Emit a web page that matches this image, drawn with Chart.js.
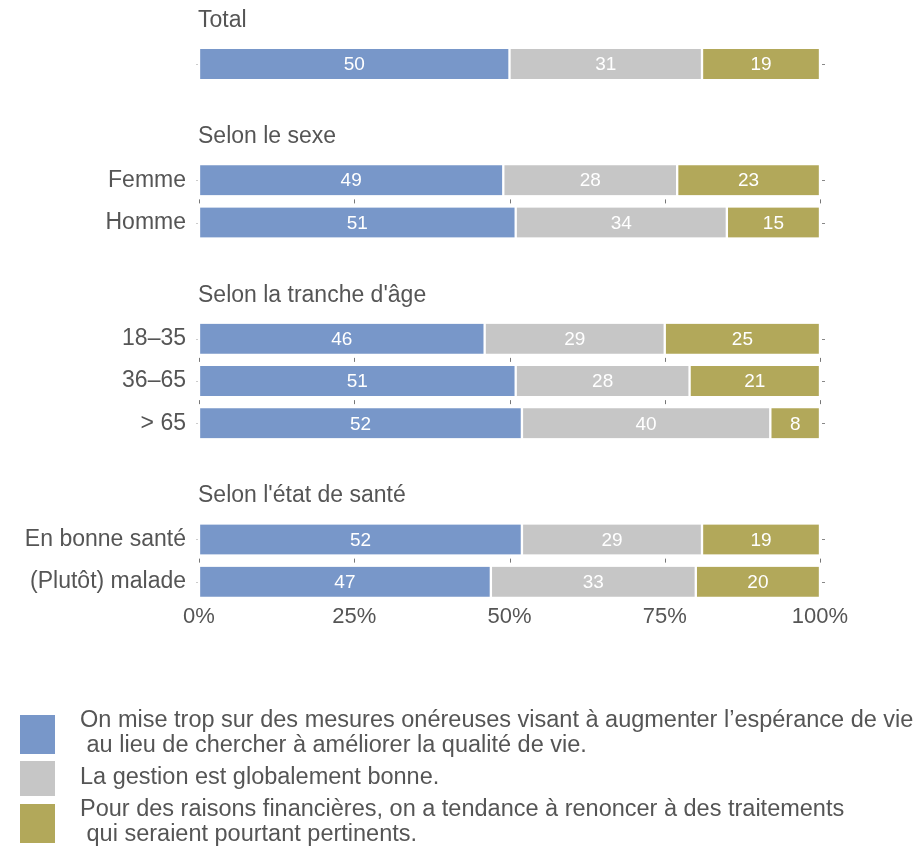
<!DOCTYPE html>
<html><head><meta charset="utf-8">
<script src="https://cdn.jsdelivr.net/npm/chart.js@4"></script>
<style>
html,body{margin:0;padding:0;background:#fff;}
#wrap{position:relative;width:924px;height:848px;overflow:hidden;}
#c{position:absolute;left:0;top:0;}
#legend{position:absolute;left:20px;top:707px;display:flex;flex-direction:column;gap:2px;font-family:"Liberation Sans",Arial,sans-serif;font-size:23.5px;color:#555;}
.item{display:flex;align-items:center;}
.box{width:35px;flex:none;position:relative;top:2px;}
.txt{margin-left:25px;white-space:pre;line-height:25px;}
</style></head>
<body><div id="wrap"><canvas id="c" width="924" height="848"></canvas><div id="legend"></div></div>
<script>
// ---- data ----
const categories = ["Total", "Femme", "Homme", "18–35", "36–65", "> 65", "En bonne santé", "(Plutôt) malade"];
const groupTitles = ["Total", "Selon le sexe", "Selon la tranche d'âge", "Selon l'état de santé"];
const rowGroup = [0, 1, 1, 2, 2, 2, 3, 3];
const seriesLabels = [
  "On mise trop sur des mesures onéreuses visant à augmenter l’espérance de vie\n au lieu de chercher à améliorer la qualité de vie.",
  "La gestion est globalement bonne.",
  "Pour des raisons financières, on a tendance à renoncer à des traitements\n qui seraient pourtant pertinents."
];
const tropOnereux = [50, 49, 51, 46, 51, 52, 52, 47];
const gestionBonne = [31, 28, 34, 29, 28, 40, 29, 33];
const renoncer = [19, 23, 15, 25, 21, 8, 19, 20];
const xTicks = [0, 25, 50, 75, 100];

// ---- styles / layout ----
const colors = ["#7897c9", "#c6c6c6", "#b2a85a"];
const FONT = '"Liberation Sans", Arial, sans-serif';
const LEAD = 4, ROW_STEP = 4, GROUP_STEP = 11, TRAIL = 1;

const rowSlot = [];
let pos = LEAD;
for (let i = 0; i < categories.length; i++) {
  if (i > 0) pos += (rowGroup[i] !== rowGroup[i - 1]) ? GROUP_STEP : ROW_STEP;
  rowSlot.push(pos);
}
const nSlots = pos + 1 + TRAIL;
const labels = Array(nSlots).fill('');
// a row whose name equals its group title is shown only by the title
rowSlot.forEach((s, i) => labels[s] = (categories[i] === groupTitles[rowGroup[i]]) ? '' : categories[i]);
function expand(arr) { const out = Array(nSlots).fill(null); rowSlot.forEach((s, i) => out[s] = arr[i]); return out; }

const series = [tropOnereux, gestionBonne, renoncer];

const decor = {
  id: 'decor',
  afterDatasetsDraw(chart) {
    const { ctx, chartArea, scales: { x, y } } = chart;
    ctx.save();
    ctx.font = '19px ' + FONT; ctx.fillStyle = '#fff'; ctx.textAlign = 'center'; ctx.textBaseline = 'middle';
    chart.data.datasets.forEach((ds, di) => {
      chart.getDatasetMeta(di).data.forEach((el, j) => {
        const v = ds.data[j]; if (v == null) return;
        const p = el.getCenterPoint();
        ctx.fillText(String(v), p.x, p.y + 1);
      });
    });
    ctx.font = '23px ' + FONT; ctx.fillStyle = '#555'; ctx.textAlign = 'left';
    groupTitles.forEach((t, g) => {
      const first = rowGroup.indexOf(g);
      ctx.fillText(t, chartArea.left - 1, y.getPixelForValue(rowSlot[first]) - 43.5);
    });
    ctx.strokeStyle = '#777'; ctx.lineWidth = 1;
    for (let i = 1; i < categories.length; i++) {
      if (rowGroup[i] !== rowGroup[i - 1]) continue;
      const ym = (y.getPixelForValue(rowSlot[i - 1]) + y.getPixelForValue(rowSlot[i])) / 2;
      xTicks.forEach(v => {
        const px = Math.round(x.getPixelForValue(v)) + 0.5;
        ctx.beginPath(); ctx.moveTo(px, ym - 2); ctx.lineTo(px, ym + 2); ctx.stroke();
      });
    }
    rowSlot.forEach(s => {
      const py = Math.round(y.getPixelForValue(s)) + 0.5;
      ctx.strokeStyle = '#888';
      ctx.beginPath(); ctx.moveTo(chartArea.right + 2, py); ctx.lineTo(chartArea.right + 5, py); ctx.stroke();
      ctx.strokeStyle = '#ccc';
      ctx.beginPath(); ctx.moveTo(chartArea.left - 3, py); ctx.lineTo(chartArea.left - 1, py); ctx.stroke();
    });
    ctx.restore();
  }
};

new Chart(document.getElementById('c'), {
  type: 'bar',
  data: {
    labels,
    datasets: series.map((s, i) => ({ label: seriesLabels[i], data: expand(s), backgroundColor: colors[i] }))
  },
  options: {
    indexAxis: 'y', responsive: false, animation: false,
    layout: { padding: { left: 0, right: 104, top: 16.5, bottom: 212 } },
    plugins: { legend: { display: false }, tooltip: { enabled: false } },
    datasets: { bar: { barThickness: 30, borderColor: '#fff', borderWidth: { left: 1.5, right: 1.5, top: 0, bottom: 0 }, borderSkipped: false } },
    scales: {
      x: {
        stacked: true, min: 0, max: 100,
        grid: { display: false, drawTicks: false }, border: { display: false },
        afterBuildTicks: s => { s.ticks = xTicks.map(v => ({ value: v })); },
        ticks: { callback: v => v + '%', font: { family: FONT, size: 22 }, color: '#555', padding: 6, maxRotation: 0 }
      },
      y: {
        stacked: true,
        grid: { display: false, drawTicks: false }, border: { display: false },
        ticks: { autoSkip: false, font: { family: FONT, size: 23 }, color: '#555', padding: 13 },
        afterFit: s => { s.width = 199; s.paddingTop = 0; s.paddingBottom = 0; }
      }
    }
  },
  plugins: [decor]
});

// legend (HTML) built from the same series
const leg = document.getElementById('legend');
seriesLabels.forEach((t, i) => {
  const lines = t.split('\n').length;
  const it = document.createElement('div'); it.className = 'item';
  const b = document.createElement('div'); b.className = 'box'; b.style.background = colors[i]; b.style.height = (lines > 1 ? 39 : 35) + 'px';
  const tx = document.createElement('div'); tx.className = 'txt'; tx.textContent = t;
  it.appendChild(b); it.appendChild(tx); leg.appendChild(it);
});
</script>
</body></html>
